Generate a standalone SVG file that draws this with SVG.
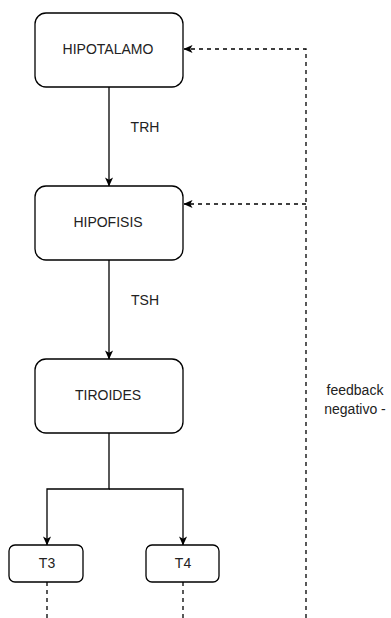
<svg xmlns="http://www.w3.org/2000/svg" width="391" height="618" viewBox="0 0 391 618">
<defs>
<style>
.box{fill:#fff;stroke:#000;stroke-width:1.3}
.lbl{font-family:"Liberation Sans",Arial,sans-serif;font-size:14px;fill:#222;text-anchor:middle}
.edge{fill:none;stroke:#000;stroke-width:1.3}
.dash{stroke-dasharray:4 4}
</style>
<marker id="arr" viewBox="0 0 10 10" refX="9.5" refY="5" markerWidth="9" markerHeight="9" markerUnits="userSpaceOnUse" orient="auto">
<path d="M0,0.5 L10,5 L0,9.5 L2.5,5 Z" fill="#000"/>
</marker>
</defs>
<rect width="391" height="618" fill="#fff"/>
<g id="connectors">
<path class="edge" d="M109,87 V186" marker-end="url(#arr)"/>
<path class="edge" d="M109,260 V359" marker-end="url(#arr)"/>
<path class="edge" d="M109,433 V489 H47 V545" marker-end="url(#arr)"/>
<path class="edge" d="M109,489 H183 V545" marker-end="url(#arr)"/>
<path class="edge dash" d="M306,618 V49 H184" marker-end="url(#arr)"/>
<path class="edge dash" d="M306,204 H184" marker-end="url(#arr)"/>
<path class="edge dash" d="M47,582 V618"/>
<path class="edge dash" d="M183,582 V618"/>
<text class="lbl" x="145" y="132">TRH</text>
<text class="lbl" x="145" y="305">TSH</text>
<text class="lbl" x="355" y="395">feedback</text>
<text class="lbl" x="355" y="414">negativo -</text>
</g>
<g id="hipotalamo">
<rect class="box" x="35" y="13" width="148" height="74" rx="11"/>
<text class="lbl" x="108" y="54">HIPOTALAMO</text>
</g>
<g id="hipofisis">
<rect class="box" x="35" y="186" width="148" height="74" rx="11"/>
<text class="lbl" x="108" y="227">HIPOFISIS</text>
</g>
<g id="tiroides">
<rect class="box" x="35" y="359" width="148" height="74" rx="11"/>
<text class="lbl" x="108" y="400">TIROIDES</text>
</g>
<g id="t3">
<rect class="box" x="9" y="545" width="74" height="37" rx="6"/>
<text class="lbl" x="47" y="568">T3</text>
</g>
<g id="t4">
<rect class="box" x="146" y="545" width="73" height="37" rx="6"/>
<text class="lbl" x="183" y="568">T4</text>
</g>
</svg>
